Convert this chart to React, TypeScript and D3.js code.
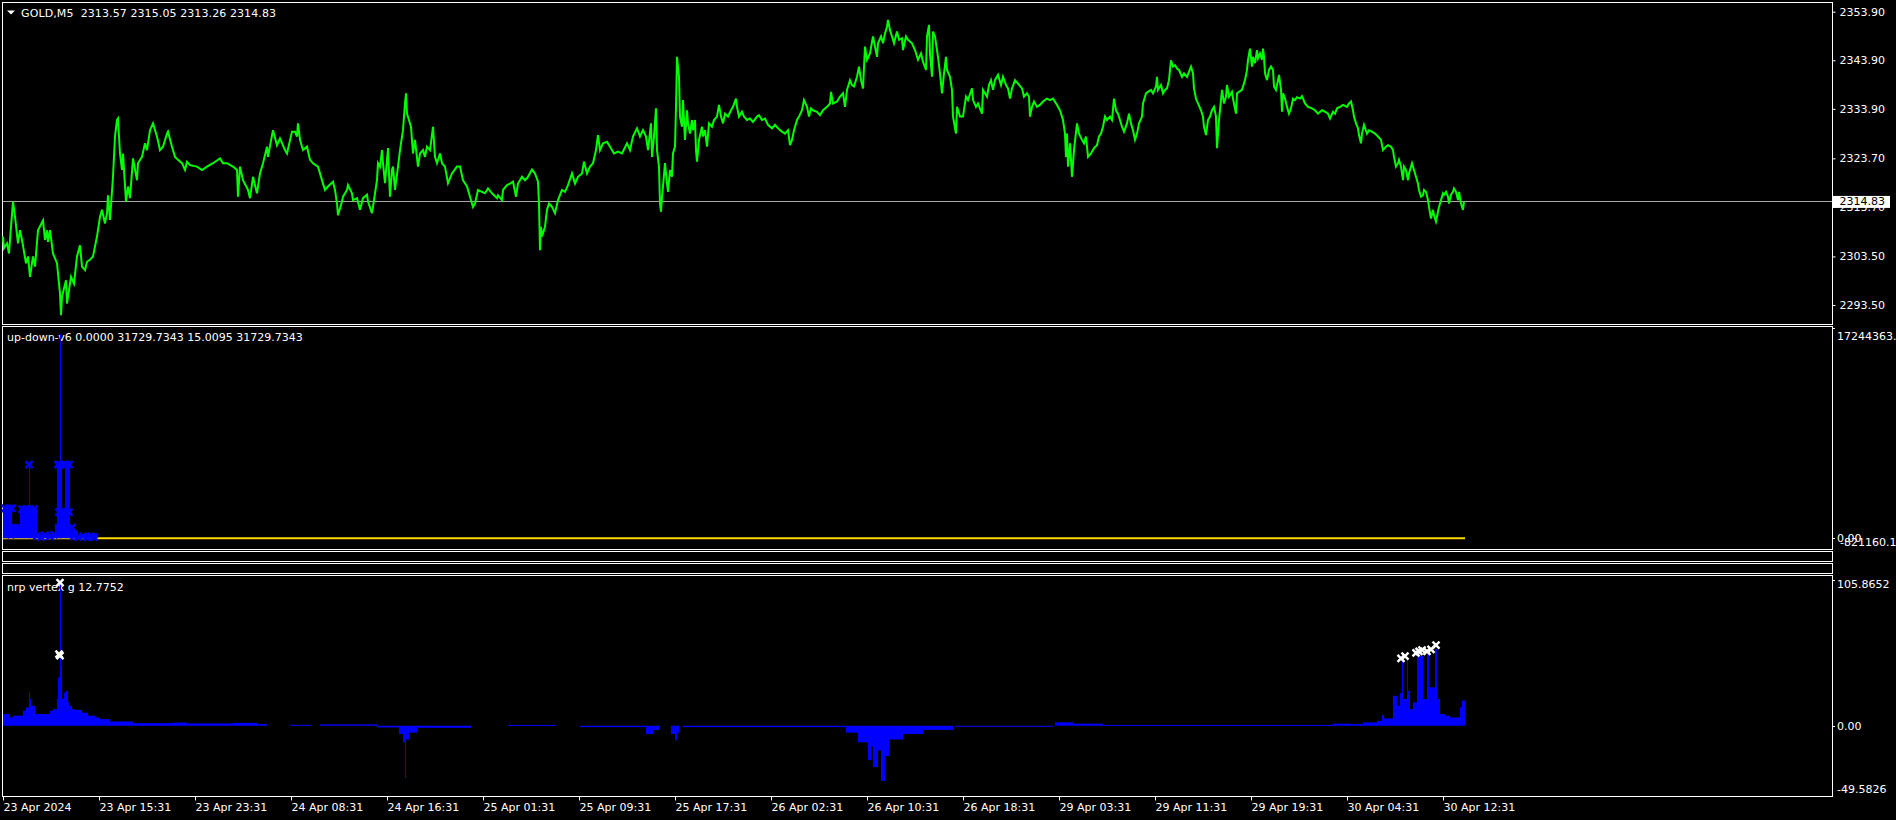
import React, { useRef, useEffect } from "react";
import * as d3 from "d3";

// x axis: one bar per pixel, a label every 96 bars (8 hours of M5)
const timeTicks = [
  "23 Apr 2024", "23 Apr 15:31", "23 Apr 23:31", "24 Apr 08:31", "24 Apr 16:31",
  "25 Apr 01:31", "25 Apr 09:31", "25 Apr 17:31", "26 Apr 02:31", "26 Apr 10:31",
  "26 Apr 18:31", "29 Apr 03:31", "29 Apr 11:31", "29 Apr 19:31", "30 Apr 04:31",
  "30 Apr 12:31",
];
const priceTicks = [2353.9, 2343.9, 2333.9, 2323.7, 2313.7, 2303.5, 2293.5];
const lastPrice = 2314.83;

// GOLD M5 close, [bar, price]
const closes: [number, number][] = [
  [0,2307.6],[1,2305.2],[4,2306.2],[6,2304.1],[8,2309.6],[10,2314.8],[12,2311.7],[15,2306.2],[17,2308.9],[19,2306.9],
  [23,2302.1],[25,2303.5],[27,2299.3],[30,2303.5],[32,2301.4],[35,2308.9],[40,2310.9],[42,2306.9],[44,2308.9],[45,2306.5],
  [47,2308.9],[50,2304.1],[54,2302.1],[55,2300.0],[57,2295.9],[58,2291.4],[59,2295.2],[63,2298.6],[64,2293.8],[68,2299.3],
  [71,2297.9],[74,2303.5],[77,2305.8],[79,2301.4],[82,2300.7],[84,2302.4],[87,2302.8],[90,2303.5],[94,2307.6],[97,2311.7],
  [99,2313.1],[102,2310.3],[104,2312.4],[105,2316.1],[107,2311.0],[110,2319.9],[112,2328.2],[114,2331.6],[115,2331.9],[117,2324.7],
  [119,2321.3],[120,2324.7],[123,2314.8],[125,2317.9],[127,2315.5],[130,2323.7],[134,2319.2],[135,2322.7],[139,2324.0],[142,2326.8],
  [144,2325.4],[147,2329.5],[150,2330.9],[154,2328.2],[157,2325.4],[160,2326.1],[164,2328.8],[165,2329.2],[169,2326.1],[172,2324.0],
  [175,2323.4],[179,2322.7],[182,2321.3],[184,2323.0],[187,2322.3],[194,2322.0],[199,2321.3],[204,2322.0],[210,2322.7],[217,2323.7],
  [220,2322.7],[224,2322.7],[230,2322.0],[234,2321.3],[235,2315.8],[237,2322.0],[240,2319.2],[245,2317.2],[247,2315.5],[250,2319.9],
  [254,2316.5],[257,2320.6],[260,2322.7],[264,2326.1],[265,2324.0],[270,2329.5],[274,2326.4],[277,2327.8],[282,2325.4],[284,2324.7],
  [289,2329.2],[292,2329.2],[294,2328.2],[295,2330.9],[297,2327.5],[300,2325.4],[304,2326.1],[307,2323.4],[310,2322.7],[315,2322.0],
  [317,2320.6],[320,2318.5],[322,2317.2],[325,2317.9],[330,2318.9],[332,2317.2],[334,2314.4],[335,2312.0],[339,2314.8],[340,2315.8],
  [344,2317.2],[345,2318.2],[349,2316.5],[350,2315.1],[354,2315.5],[357,2313.1],[360,2315.5],[364,2316.2],[365,2314.8],[369,2312.4],
  [371,2315.1],[374,2319.2],[375,2322.7],[377,2322.0],[379,2325.4],[380,2322.7],[382,2318.6],[385,2325.8],[386,2320.6],[387,2315.8],
  [389,2321.3],[390,2322.0],[392,2317.2],[395,2322.0],[397,2325.4],[400,2329.5],[402,2335.0],[403,2337.1],[404,2332.9],[408,2330.2],
  [410,2324.7],[412,2327.5],[415,2322.0],[417,2324.7],[420,2325.4],[422,2324.0],[424,2326.1],[427,2325.4],[430,2330.2],[432,2324.0],
  [434,2322.7],[437,2324.7],[439,2322.7],[442,2322.0],[445,2318.6],[449,2320.6],[454,2322.0],[457,2322.0],[460,2319.2],[464,2317.9],
  [467,2315.8],[470,2313.7],[472,2314.4],[475,2317.2],[479,2316.8],[482,2316.5],[485,2317.5],[489,2316.5],[494,2315.5],[495,2316.1],
  [499,2315.1],[500,2317.2],[504,2318.2],[507,2318.5],[510,2318.9],[513,2315.8],[515,2318.5],[519,2319.9],[522,2319.2],[525,2319.9],
  [529,2321.4],[532,2320.6],[535,2318.9],[536,2314.4],[537,2304.8],[538,2309.6],[539,2307.6],[542,2309.6],[544,2313.1],[546,2314.4],
  [549,2313.7],[552,2312.4],[555,2315.1],[559,2317.2],[562,2316.8],[565,2318.2],[569,2320.6],[572,2318.5],[575,2319.9],[579,2320.6],
  [581,2323.0],[584,2320.6],[587,2322.0],[590,2322.7],[593,2325.4],[595,2328.5],[597,2325.4],[600,2326.8],[604,2327.1],[607,2326.1],
  [611,2324.7],[615,2325.1],[619,2324.7],[624,2326.8],[627,2325.4],[630,2328.2],[634,2329.9],[637,2328.2],[640,2329.5],[643,2328.2],
  [645,2325.4],[648,2330.9],[649,2324.0],[651,2328.2],[653,2334.0],[654,2325.4],[656,2322.0],[657,2314.4],[658,2312.7],[659,2315.8],
  [660,2317.9],[662,2322.7],[664,2318.5],[665,2316.8],[667,2321.3],[669,2319.9],[670,2324.7],[672,2326.1],[673,2334.3],[674,2344.6],
  [675,2342.6],[676,2340.5],[677,2332.3],[679,2330.2],[680,2335.7],[682,2327.5],[684,2333.6],[685,2330.9],[687,2328.8],[689,2331.6],
  [690,2329.5],[692,2331.6],[693,2325.4],[694,2323.0],[696,2327.5],[699,2330.2],[700,2328.2],[702,2329.5],[704,2326.1],[706,2330.9],
  [709,2330.2],[711,2331.6],[714,2332.3],[716,2334.7],[718,2332.3],[720,2330.9],[722,2332.9],[725,2332.3],[728,2333.6],[730,2334.3],
  [733,2336.0],[734,2334.3],[736,2332.3],[739,2333.3],[741,2332.3],[744,2331.6],[747,2331.9],[750,2331.2],[754,2332.3],[756,2332.6],
  [759,2331.6],[762,2331.9],[765,2330.6],[769,2329.9],[772,2330.6],[775,2329.9],[779,2329.2],[782,2328.8],[785,2329.5],[787,2326.4],
  [789,2327.5],[791,2329.5],[794,2331.6],[796,2332.3],[799,2333.6],[801,2335.7],[804,2334.3],[806,2332.3],[808,2334.0],[810,2333.6],
  [814,2333.3],[817,2332.6],[820,2333.6],[824,2334.3],[827,2335.0],[828,2337.4],[830,2335.0],[834,2335.4],[837,2336.4],[840,2337.1],
  [842,2334.3],[844,2337.8],[847,2339.8],[849,2338.8],[851,2338.5],[854,2340.5],[856,2342.6],[858,2339.8],[860,2338.1],[862,2346.7],
  [864,2344.0],[867,2345.3],[870,2348.8],[872,2346.7],[874,2344.6],[875,2347.4],[878,2348.8],[880,2347.4],[882,2349.4],[884,2350.8],
  [885,2352.2],[887,2350.1],[889,2348.8],[891,2347.4],[894,2349.8],[896,2348.1],[899,2348.4],[900,2346.0],[903,2348.8],[905,2348.1],
  [909,2347.4],[912,2346.0],[915,2344.0],[918,2345.3],[920,2343.6],[923,2341.9],[924,2348.8],[926,2351.2],[927,2345.3],[929,2340.5],
  [930,2349.8],[932,2348.8],[934,2346.0],[935,2344.6],[937,2341.2],[939,2337.1],[941,2341.2],[943,2344.6],[944,2341.9],[947,2340.5],
  [949,2337.8],[950,2332.3],[953,2328.8],[954,2334.3],[957,2332.3],[960,2332.3],[963,2336.4],[965,2335.7],[969,2338.1],[970,2335.7],
  [973,2334.3],[975,2335.0],[979,2332.9],[980,2337.8],[984,2336.4],[986,2338.8],[988,2339.8],[990,2337.8],[992,2339.8],[995,2340.9],
  [998,2338.8],[1000,2340.5],[1003,2338.8],[1005,2338.1],[1007,2336.0],[1009,2338.1],[1012,2339.8],[1015,2339.1],[1019,2338.1],[1021,2336.4],
  [1024,2337.1],[1026,2336.4],[1027,2332.3],[1029,2334.3],[1031,2335.4],[1034,2334.3],[1037,2334.7],[1040,2335.4],[1044,2336.0],[1047,2335.7],
  [1050,2336.0],[1054,2334.7],[1057,2333.6],[1060,2331.6],[1062,2328.8],[1063,2324.0],[1064,2328.8],[1065,2322.0],[1067,2326.8],[1069,2319.9],
  [1071,2325.4],[1074,2330.9],[1076,2328.8],[1079,2327.5],[1081,2326.8],[1083,2328.2],[1085,2324.0],[1088,2324.7],[1091,2325.8],[1094,2326.4],
  [1096,2328.2],[1098,2328.8],[1100,2330.2],[1102,2332.3],[1104,2331.6],[1107,2332.3],[1109,2331.6],[1111,2336.0],[1113,2333.6],[1115,2332.9],
  [1117,2331.6],[1119,2330.2],[1121,2329.2],[1124,2330.9],[1126,2332.9],[1128,2330.9],[1130,2329.5],[1132,2327.5],[1134,2328.8],[1136,2330.9],
  [1139,2332.3],[1140,2335.0],[1143,2337.1],[1145,2337.4],[1148,2337.8],[1150,2337.1],[1153,2338.5],[1154,2340.5],[1155,2337.8],[1158,2338.8],
  [1160,2337.1],[1162,2337.8],[1164,2338.1],[1166,2339.8],[1168,2343.9],[1170,2342.6],[1172,2342.9],[1174,2342.2],[1176,2341.9],[1179,2340.5],
  [1181,2341.2],[1184,2340.5],[1186,2341.5],[1188,2342.6],[1190,2341.2],[1191,2338.1],[1193,2336.0],[1195,2335.0],[1198,2333.6],[1200,2332.3],
  [1201,2330.2],[1203,2328.5],[1205,2331.6],[1207,2332.3],[1209,2333.6],[1211,2334.3],[1213,2332.3],[1214,2325.8],[1216,2331.6],[1218,2335.7],
  [1219,2337.8],[1221,2335.0],[1223,2336.4],[1224,2338.8],[1226,2336.4],[1229,2337.4],[1230,2336.0],[1233,2332.9],[1234,2337.1],[1236,2337.4],
  [1239,2337.8],[1240,2338.5],[1242,2339.8],[1244,2341.9],[1245,2343.9],[1247,2346.3],[1249,2342.6],[1250,2344.6],[1252,2343.3],[1254,2346.0],
  [1255,2344.3],[1257,2345.3],[1259,2344.0],[1260,2346.3],[1261,2344.6],[1262,2341.2],[1264,2339.8],[1266,2341.9],[1268,2342.6],[1270,2341.9],
  [1271,2338.5],[1273,2337.8],[1275,2339.8],[1276,2340.9],[1278,2337.8],[1279,2333.3],[1280,2337.1],[1282,2336.0],[1284,2334.3],[1286,2332.9],
  [1288,2334.0],[1290,2336.0],[1292,2335.7],[1294,2336.3],[1297,2336.0],[1299,2336.5],[1302,2335.0],[1305,2334.3],[1309,2334.0],[1312,2333.6],
  [1315,2332.9],[1319,2333.6],[1322,2333.3],[1325,2332.9],[1327,2331.9],[1330,2333.3],[1332,2332.9],[1334,2334.0],[1337,2334.3],[1340,2334.7],
  [1344,2334.3],[1346,2335.0],[1348,2335.4],[1350,2333.6],[1351,2332.3],[1353,2330.9],[1355,2329.9],[1356,2328.5],[1358,2326.8],[1359,2328.8],
  [1361,2330.6],[1364,2328.8],[1366,2329.5],[1369,2329.2],[1372,2328.8],[1375,2328.2],[1378,2327.5],[1380,2325.4],[1383,2326.1],[1385,2326.4],
  [1388,2326.1],[1390,2325.4],[1391,2324.0],[1393,2322.0],[1395,2322.7],[1396,2323.4],[1398,2322.0],[1400,2319.2],[1401,2322.0],[1403,2321.3],
  [1405,2319.2],[1406,2320.6],[1408,2322.0],[1409,2322.7],[1411,2321.3],[1413,2319.9],[1415,2318.5],[1416,2317.2],[1418,2315.8],[1420,2316.1],
  [1421,2317.2],[1423,2316.8],[1425,2315.1],[1426,2313.7],[1428,2311.3],[1430,2313.1],[1431,2312.0],[1433,2310.7],[1435,2312.7],[1436,2313.7],
  [1438,2315.1],[1440,2316.5],[1441,2316.2],[1443,2316.8],[1445,2315.8],[1446,2314.4],[1448,2316.2],[1450,2316.8],[1451,2317.5],[1453,2316.8],
  [1455,2315.1],[1456,2316.8],[1458,2314.4],[1460,2313.1],[1461,2314.83],
];

// up-down-v6 histogram, [fromBar, toBar, value]
const udHist: [number, number, number][] = [
  [0,9,2545000],[9,17,1043000],[17,34,2463000],[34,52,330000],[52,54,1200000],[54,59,6050000],
  [59,62,2000000],[62,67,6050000],[67,75,650000],[75,95,250000],
  [26,27,6050000],[57,58,16800000],
];
const udMarks: [number, number][] = [
  [2,2450000],[6,2450000],[9,2450000],[19,2400000],[23,2400000],[27,2400000],[31,2400000],[26,6050000],
  [12,880000],[15,880000],[55,6050000],[57,6050000],[60,6050000],[63,6050000],[66,6050000],
  [56,2150000],[59,2150000],[63,2150000],[66,2150000],[58,880000],[64,880000],[69,880000],
  [4,500000],[8,300000],[34,200000],[38,100000],[42,250000],[47,150000],[51,300000],[71,150000],
  [75,100000],[80,150000],[84,100000],[88,150000],[91,100000],
];
const udZero = [0, 1462];

// nrp vertex g histogram, [fromBar, toBar, value]
const nrpHist: [number, number, number][] = [
  [0,7,8.5],[7,10,6.1],[10,20,7.3],[20,23,10.9],[23,26,13.3],[26,27,24.2],[27,28,19.4],[28,32,14.5],
  [32,47,8.5],[47,50,10.9],[50,54,12.1],[54,55,19.4],[55,57,35.1],[57,58,104],[58,59,43.6],[59,61,19.4],
  [61,63,24],[63,65,25.4],[65,66,17],[66,69,14.5],[69,72,12],[72,79,11.5],[79,85,9.5],[85,92,7.3],
  [92,97,6],[97,107,4.8],[107,130,3.1],[130,170,1.9],[170,184,2.3],[184,230,1.7],[230,254,2.1],[254,264,1.3],
  [287,309,0.7],[317,374,1.0],[374,396,-1.2],[396,400,-6],[400,402,-12],[402,403,-37.8],[403,406,-10],
  [406,414,-5],[414,468,-1.5],[505,553,0.6],[577,643,-1],[643,650,-6],[650,656,-3],[668,672,-6],
  [672,674,-10.5],[674,676,-5],[680,843,-1],[843,855,-5],[855,865,-12],[865,868,-25],[868,870,-15],
  [870,875,-30],[875,878,-18],[878,882,-40],[882,886,-22],[886,900,-10],[900,920,-6],[920,950,-3],
  [952,1050,-0.5],[1052,1070,2.5],[1070,1100,1.5],[1100,1330,0.6],[1330,1347,1.5],
  [1347,1360,1.2],[1360,1374,2.4],[1374,1379,3.6],[1379,1381,7.8],[1381,1390,5.3],[1390,1394,21.8],
  [1394,1397,14.5],[1397,1399,23.7],[1399,1400,47],[1400,1404,19.4],[1404,1405,48.4],[1405,1407,25.4],
  [1407,1410,12.1],[1410,1414,17],[1414,1420,50.9],[1420,1424,19.4],[1424,1426,52],[1426,1432,27.9],
  [1432,1434,55.7],[1434,1437,19.4],[1437,1442,8.5],[1442,1447,7.3],[1447,1457,6],[1457,1459,13.3],
  [1459,1462,18.2],
];
const nrpMarks: [number, number][] = [
  [57,104],[57,51],[56,52],[1398,49],[1402,50.5],[1413,53],[1416,54],[1419,55],[1424,54],[1428,55.5],[1433,58.6],
];

const FONT = "DejaVu Sans";

const App: React.FC = () => {
  const ref = useRef<SVGSVGElement>(null);

  useEffect(() => {
    if (!ref.current) return;
    const svg = d3.select(ref.current);
    svg.selectAll("*").remove();

    svg.append("rect").attr("width", 1896).attr("height", 820).attr("fill", "#000");

    const x = d3.scaleLinear().domain([0, 1829]).range([3, 1832]);

    // panel frames [top, bottom]
    const frames = [[2, 324], [326, 549], [551, 561], [563, 573], [575, 796]];
    frames.forEach(([t, b]) => {
      svg.append("rect")
        .attr("x", 2.5).attr("y", t + 0.5)
        .attr("width", 1830).attr("height", b - t)
        .attr("fill", "none").attr("stroke", "#fff");
    });

    const text = (tx: number, ty: number, s: string, color = "#fff") =>
      svg.append("text")
        .attr("x", tx).attr("y", ty)
        .attr("fill", color)
        .style("font-family", FONT)
        .style("font-size", "11px")
        .style("white-space", "pre")
        .text(s);

    // ---- main price window
    const yPrice = d3.scaleLinear().domain([2293.5, 2353.9]).range([305, 11.7]);

    svg.append("line")
      .attr("x1", 3).attr("x2", 1832)
      .attr("y1", Math.round(yPrice(lastPrice)) + 0.5)
      .attr("y2", Math.round(yPrice(lastPrice)) + 0.5)
      .attr("stroke", "#a8a8a8");

    const priceLine = d3.line<[number, number]>()
      .x((d) => x(d[0]))
      .y((d) => yPrice(d[1]));
    svg.append("path")
      .datum(closes)
      .attr("fill", "none")
      .attr("stroke", "#00ff00")
      .attr("stroke-width", 2)
      .attr("stroke-linejoin", "miter")
      .attr("d", priceLine);

    svg.append("path").attr("d", "M7,10.5L15,10.5L11,14.5Z").attr("fill", "#fff");
    text(21, 16.5, "GOLD,M5  2313.57 2315.05 2313.26 2314.83")
      .attr("textLength", 255)
      .attr("lengthAdjust", "spacing");

    const yAxis = svg.append("g")
      .attr("transform", "translate(1832.5,0)")
      .call(
        d3.axisRight(yPrice)
          .tickValues(priceTicks)
          .tickSize(3)
          .tickPadding(4)
          .tickFormat((d) => d3.format(".2f")(d as number))
      );
    yAxis.select(".domain").remove();
    yAxis.selectAll("line").attr("stroke", "#fff");
    yAxis.selectAll("text").attr("fill", "#fff").style("font-family", FONT).style("font-size", "11px");

    const py = yPrice(lastPrice);
    svg.append("rect")
      .attr("x", 1833).attr("y", py - 5.5)
      .attr("width", 57).attr("height", 12)
      .attr("fill", "#fff");
    text(1839.5, py + 4, "2314.83", "#000");

    // ---- up-down-v6 window
    const yUd = d3.scaleLinear().domain([-821160.16, 17244363]).range([548.3, 328.3]);
    text(7, 341.3, "up-down-v6 0.0000 31729.7343 15.0095 31729.7343");

    svg.append("line")
      .attr("x1", x(udZero[0])).attr("x2", x(udZero[1]))
      .attr("y1", yUd(0)).attr("y2", yUd(0))
      .attr("stroke", "#ffd700").attr("stroke-width", 2);

    svg.append("g").selectAll("rect")
      .data(udHist)
      .join("rect")
      .attr("x", (d) => x(d[0]))
      .attr("width", (d) => x(d[1]) - x(d[0]))
      .attr("y", (d) => yUd(Math.max(0, d[2])))
      .attr("height", (d) => Math.abs(yUd(d[2]) - yUd(0)))
      .attr("fill", "#0000ff");

    const crosses = (pts: [number, number][], ys: d3.ScaleLinear<number, number>, color: string) =>
      svg.append("g").selectAll("path")
        .data(pts)
        .join("path")
        .attr("d", (d) => {
          const cx = x(d[0]);
          const cy = ys(d[1]);
          return `M${cx - 3.5},${cy - 3.5}L${cx + 3.5},${cy + 3.5}M${cx - 3.5},${cy + 3.5}L${cx + 3.5},${cy - 3.5}`;
        })
        .attr("stroke", color)
        .attr("stroke-width", 2.4);

    crosses(udMarks, yUd, "#0000ff");

    // ---- nrp vertex g window
    const yNrp = d3.scaleLinear().domain([-49.5826, 105.8652]).range([794, 580]);
    text(7, 590.7, "nrp vertex g 12.7752");

    svg.append("g").selectAll("rect")
      .data(nrpHist)
      .join("rect")
      .attr("x", (d) => x(d[0]))
      .attr("width", (d) => x(d[1]) - x(d[0]))
      .attr("y", (d) => yNrp(Math.max(0, d[2])))
      .attr("height", (d) => Math.max(1, Math.abs(yNrp(d[2]) - yNrp(0))))
      .attr("fill", "#0000ff");

    crosses(nrpMarks, yNrp, "#fff");

    // sub-window scale labels
    const subAxes: [d3.ScaleLinear<number, number>, number, number, [number, string, number][]][] = [
      [yUd, 326.7, 549, [[17244363, "17244363.00", 1837], [0, "0.00", 1837], [-821160.16, "-821160.16", 1840]]],
      [yNrp, 575.3, 795.7, [[105.8652, "105.8652", 1837], [0, "0.00", 1837], [-49.5826, "-49.5826", 1837]]],
    ];
    subAxes.forEach(([ys, top, bottom, labels]) => {
      labels.forEach(([v, s, lx], i) => {
        if (i < 2) {
          const ty = Math.round(Math.min(Math.max(ys(v), top + 1.5), bottom - 1)) + 0.5;
          svg.append("line").attr("x1", 1832).attr("x2", 1835).attr("y1", ty).attr("y2", ty).attr("stroke", "#fff");
        }
        const ly = Math.min(Math.max(ys(v), top + 9), bottom - 7) + 4;
        text(lx, ly, s);
      });
    });

    // ---- time axis
    const xAxis = svg.append("g")
      .attr("transform", "translate(0,796.5)")
      .call(
        d3.axisBottom(x)
          .tickValues(d3.range(0, timeTicks.length * 96, 96))
          .tickSize(4)
          .tickPadding(3)
          .tickFormat((_, i) => timeTicks[i])
      );
    xAxis.select(".domain").remove();
    xAxis.selectAll("line").attr("stroke", "#fff");
    xAxis.selectAll("text")
      .attr("fill", "#fff")
      .attr("text-anchor", "start")
      .style("font-family", FONT)
      .style("font-size", "11px");
  }, []);

  return (
    <svg
      ref={ref}
      width={1896}
      height={820}
      style={{ position: "absolute", left: 0, top: 0, display: "block" }}
    />
  );
};

export default App;
